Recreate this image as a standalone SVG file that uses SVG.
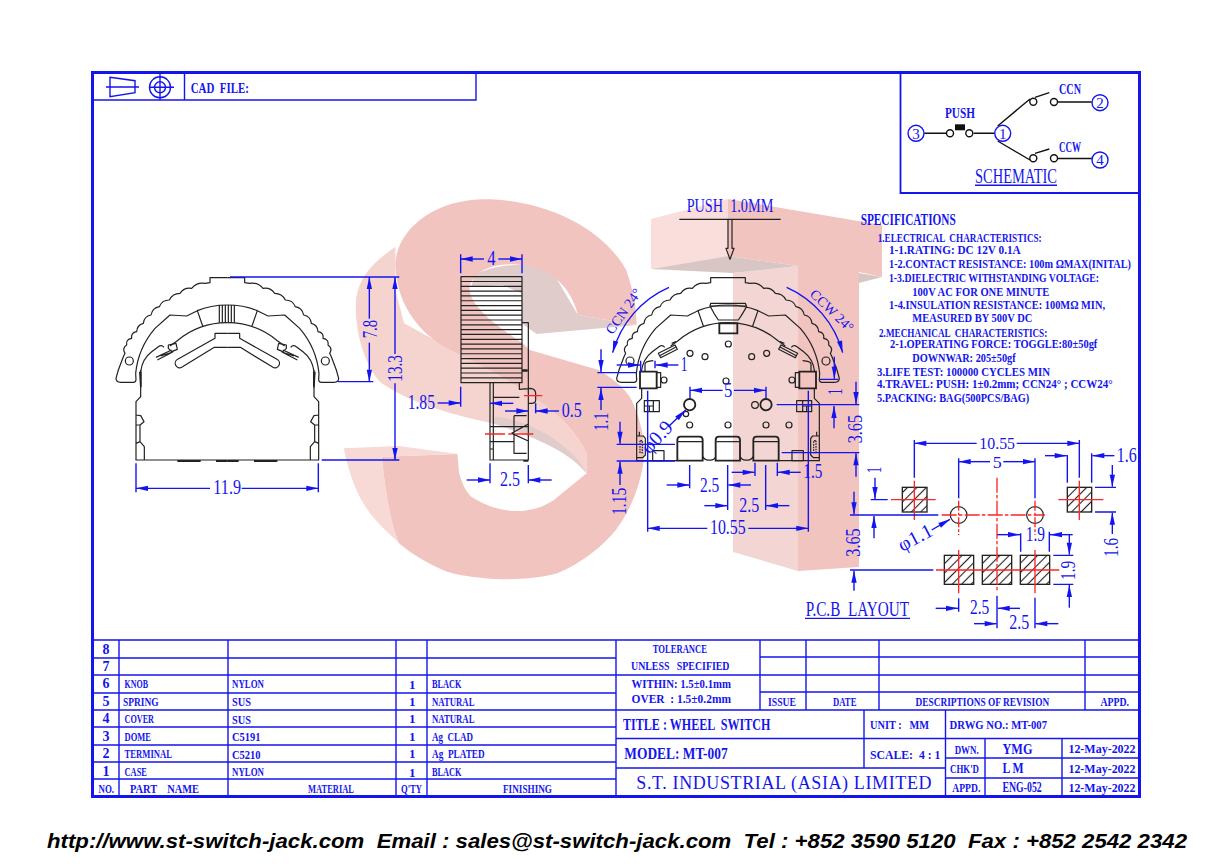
<svg xmlns="http://www.w3.org/2000/svg" width="1232" height="868" viewBox="0 0 1232 868">
<style>
text{font-family:"Liberation Serif","Times New Roman",serif;fill:#1414f0;white-space:pre}
.t{font-weight:bold;font-size:13px}
.h{font-weight:bold;font-size:17px}
.s{font-weight:bold;font-size:12.5px}
.n{font-size:60px}
.n2{font-size:42px}
.l{fill:none;stroke:#1414f0;stroke-width:1.4}
.f{fill:none;stroke:#1414f0;stroke-width:3}
.d{fill:none;stroke:#1414f0;stroke-width:4.2}
.a{marker-end:url(#ar)}
.k{fill:none;stroke:#222;stroke-width:3.6;stroke-linejoin:round}
.kt{fill:none;stroke:#222;stroke-width:5.5}
.b{fill:#222}
.r{fill:none;stroke:#ff2525;stroke-width:4}
.bl{fill:none;stroke:#111;stroke-width:1.4}
</style>
<defs>
<marker id="ar" markerUnits="userSpaceOnUse" markerWidth="36" markerHeight="16" refX="36" refY="8" orient="auto" overflow="visible"><path d="M0 0L36 8L0 16Z" fill="#1414f0"/></marker>
<pattern id="hatch" patternUnits="userSpaceOnUse" width="20" height="20" patternTransform="rotate(-45)"><path d="M0 10H20" stroke="#222" stroke-width="3.4"/></pattern>
<g id="knobhalf">
<path class="k" d="M412,83H360V98L345,100Q321,96 305,115Q283,111 270,130Q248,130 238,150Q216,150 208,170Q187,174 183,195Q162,199 160,220Q141,225 140,245Q122,248 125,265Q107,268 110,285Q95,295 105,310L100,320L85,360L78,385Q78,397 92,397H130Q137,397 138,390L137,370C142,320 165,270 195,235L240,195L290,198L322,182C350,170 380,165 412,165"/>
<path class="k" d="M322,182L338,228M412,218A235,235 0 0 0 262,272L240,288M152,365C155,340 165,320 185,305L205,290Q215,283 222,292"/>
<circle class="k" cx="118" cy="333" r="12"/>
</g>
<g id="fronthalf">
<use href="#knobhalf"/>
<path class="k" d="M152,360V440L138,455V630H412M138,495L152,497L162,515L150,525H138M150,525V575M138,580L150,575L163,590V630"/>
<path class="k" d="M412,250H375V265L263,328A12,12 0 0 0 275,352L373,292H412"/>
<path class="b" d="M147,365H155V412H150ZM262,630H332V636H262ZM378,630H412V636H378Z"/>
<path class="k" d="M235,285L258,280L262,298L245,305L235,295ZM198,322L245,300M202,330L248,306L212,318"/>
</g>
<g id="rearhalf">
<use href="#knobhalf" transform="translate(2,180)"/>
<path class="k" d="M205,490L255,465L262,478L212,503ZM209,497L258,471M245,460L258,455"/>
<path class="kt" d="M150,545H200V595H150Z"/>
<path class="k" d="M200,548H212V592H200M165,545V522Q165,514 190,512"/>
<circle class="k" cx="222" cy="570" r="9"/>
<path class="k" d="M155,595V625L140,640V812H262"/>
<path class="k" d="M163,632H208V665H163ZM163,648H190M178,648V665M190,632V665"/>
<path class="k" d="M140,738H160L166,745V795L158,803H140M148,738V725"/>
<path class="k" d="M150,752V788H157V752Z" stroke-dasharray="5 3"/>
<rect class="k" x="188" y="782" width="34" height="30"/>
<path class="kt" d="M262,812V750Q262,740 272,740H328Q338,740 338,750V812Z"/>
<path class="k" d="M264,755H336M338,800Q345,812 358,810Q372,812 377,800"/>
</g>
</defs>
<rect width="1232" height="868" fill="#fff"/>
<g id="watermark">
<g transform="translate(330,190) scale(.3444,.3333)">
<path fill="#f5d4d0" d="M190,170C120,220 75,270 75,350C75,450 110,540 150,580C220,630 330,670 470,700C600,740 700,790 745,850V790C700,680 560,600 480,550L215,400L190,300Z"/>
<path fill="#e0cdcb" d="M420,255C470,225 560,215 640,235L720,375L890,405L600,432L556,400V310L500,285L410,290Z"/>
<path fill="#f2c4c0" d="M190,220C195,120 300,28 450,28C620,28 790,110 860,240C880,300 890,350 890,405L720,375C700,290 640,235 560,225C480,215 420,240 405,290C400,340 470,400 560,460L580,480L780,540C830,570 870,610 880,640C905,700 915,760 912,800C905,870 880,950 830,1020C790,1070 730,1120 660,1150C610,1165 550,1168 500,1168C440,1165 390,1160 340,1145C290,1125 240,1095 200,1060C175,1000 160,900 150,800L370,792L375,850C385,885 395,905 410,920C480,965 570,985 650,930L745,850V790C700,680 560,600 480,550L350,480C250,430 190,330 190,220Z"/>
<path fill="#f7d9d6" d="M40,775L200,768L370,792L150,800C160,900 175,1000 200,1060C240,1095 290,1125 340,1145C260,1110 210,1070 160,1020C100,960 65,900 40,775Z"/>
<path fill="#e0cdcb" d="M480,680C580,690 700,760 745,850C700,790 600,740 470,700Z"/>
</g>
<path fill="#f2c4c0" d="M728,199L882,225V277L859,272V567L798,571V266L728,256Z"/>
<path fill="#f9dedb" d="M651,219L728,199V256L651,269Z"/>
<path fill="#f3d6d3" d="M733,273L798,266V571L733,552Z"/>
<path fill="#d8c6c5" d="M651,269L728,256L798,266L733,273ZM859,273L882,277L859,283Z"/>
</g>
<g id="frame">
<rect class="f" x="92.500" y="72.500" width="1047" height="724"/>
<path class="l" d="M92,100H476V72M184.500,72V100"/>
<path class="f" style="stroke-width:1.8" d="M900.500,72V193H1140"/>
<path class="l" d="M92,640H1140M92,658H616M92,675H616M92,693H616M92,710H616M92,727H616M92,745H616M92,762H616M92,779H616M119,640V797M228,640V797M396,640V797M427,640V797M616,640V797M760,640V710M806,640V710M879,640V710M1085,640V710M760,657H1140M616,675H1140M760,692H1140M616,710H1140M864,710V768M945.500,710V797M616,738.500H1140M616,768H945M945,758H1140M945,778H1140M985,738.500V797M1062,738.500V797"/>
<path class="l" d="M106,87H139M110,77.300L135,80.700V92.700L110,96.700ZM149,87.300H174M160,74V100"/>
<circle class="l" cx="160" cy="87.300" r="10.500"/><circle class="l" cx="160" cy="87.300" r="5.500"/>
</g>
<g id="schematic">
<path class="bl" d="M924.300,133.300H946.500M973.700,133.300H995M997.700,126L1030,99M1035,97.300L1049.300,92.700M1057.700,102H1091.700M997.700,141L1030,160M1035,153.300L1049.300,149M1057.700,158.500H1091.700"/>
<rect x="955" y="124.300" width="10" height="6" fill="#111"/>
<circle class="bl" cx="950" cy="133.300" r="3.500"/><circle class="bl" cx="969.300" cy="133.300" r="3.500"/>
<circle class="bl" cx="1033.300" cy="101.700" r="3.500"/><circle class="bl" cx="1054" cy="102" r="3.500"/>
<circle class="bl" cx="1033.300" cy="158.300" r="3.500"/><circle class="bl" cx="1054" cy="158.300" r="3.500"/>
<g class="l"><circle class="l" cx="916" cy="133.300" r="8"/><circle class="l" cx="1002.700" cy="133.300" r="8"/><circle class="l" cx="1100" cy="102.700" r="8"/><circle class="l" cx="1100" cy="160" r="8"/></g>
<g text-anchor="middle" font-size="15"><text x="916" y="138.500">3</text><text x="1002.700" y="138.500">1</text><text x="1100" y="108">2</text><text x="1100" y="165">4</text></g>
<text class="t" style="font-size:14px" x="945" y="117.700" textLength="30" lengthAdjust="spacingAndGlyphs">PUSH</text>
<text class="t" style="font-size:14px" x="1059" y="94" textLength="22" lengthAdjust="spacingAndGlyphs">CCN</text>
<text class="t" style="font-size:14px" x="1059" y="152.300" textLength="22" lengthAdjust="spacingAndGlyphs">CCW</text>
<text x="975" y="183.300" font-size="20" textLength="82" lengthAdjust="spacingAndGlyphs">SCHEMATIC</text>
<path class="l" d="M975,185.300H1057"/>
</g>
<g id="front-view" transform="translate(90,250) scale(.33333)">
<use href="#fronthalf"/><use href="#fronthalf" transform="translate(824,0) scale(-1,1)"/>
<path class="k" d="M388,165V218M397,165V218M406,165V218M415,165V218M424,165V218M433,165V218"/>
<path class="d" d="M138,640V727M685,640V727"/>
<path class="d a" d="M360,715H138"/><path class="d a" d="M455,715H685"/>
<text class="n" x="370" y="733" textLength="83" lengthAdjust="spacingAndGlyphs">11.9</text>
</g>
<g id="side-view" transform="translate(360,240) scale(.33333)">
<path class="k" d="M303,110H486V428H303ZM303,124.500H486M303,139H486M303,153.400H486M303,167.800H486M303,182.300H486M303,196.700H486M303,211.200H486M303,225.600H486M303,240H486M303,254.500H486M303,269H486M303,283.400H486M303,297.900H486M303,312.300H486M303,326.800H486M303,341.200H486M303,355.600H486M303,370H486M303,384.500H486M303,399H486M303,413.500H486"/>
<path class="k" d="M486,248H505V490M505,490V660H390V428M400,428V660M478,428V448L512,445Q527,447 527,460V480Q527,490 515,490H505M400,472H478M390,560H505M390,605H462M462,527H500M462,527V640H500M505,552L455,580L505,603M390,627H400"/>
<path class="b" d="M486,388H503V395H486ZM490,660H505V665H490Z"/>
<path class="r" d="M492,467H547M375,582H435M445,582H455M465,582H520"/>
<path class="d" d="M302,43V100M486,43V100M-390,111H118M-66,425H40M-115,660H118M302,440V500M527,490V520M390,670V730M505,675V730"/>
<path class="d a" d="M372,57H302"/><path class="d a" d="M415,57H486"/>
<path class="d a" d="M28,236V111"/><path class="d a" d="M28,308V425"/>
<path class="d a" d="M105,342V111"/><path class="d a" d="M105,430V660"/>
<path class="d a" d="M233,489H302"/><path class="d a" d="M460,490H390"/>
<path class="d a" d="M435,513H505"/><path class="d a" d="M597,513H527"/>
<path class="d a" d="M320,720H390"/><path class="d a" d="M575,720H505"/>
<text class="n" x="382" y="75" textLength="25" lengthAdjust="spacingAndGlyphs">4</text>
<text class="n" transform="rotate(-90 50 295)" x="50" y="295" textLength="55" lengthAdjust="spacingAndGlyphs">7.8</text>
<text class="n" transform="rotate(-90 126 425)" x="126" y="425" textLength="80" lengthAdjust="spacingAndGlyphs">13.3</text>
<text class="n" x="143" y="507" textLength="82" lengthAdjust="spacingAndGlyphs">1.85</text>
<text class="n" x="605" y="530" textLength="60" lengthAdjust="spacingAndGlyphs">0.5</text>
<text class="n" x="420" y="738" textLength="60" lengthAdjust="spacingAndGlyphs">2.5</text>
</g>
<g id="rear-view" transform="translate(590,190) scale(.33333)">
<text x="290" y="65" font-size="56" textLength="260" lengthAdjust="spacingAndGlyphs">PUSH  1.0MM</text>
<path d="M268,88H572" stroke="#222" stroke-width="4" fill="none"/>
<path class="k" d="M414,88V175H408L420,208L432,175H426V88"/>
<use href="#rearhalf"/><use href="#rearhalf" transform="translate(828,0) scale(-1,1)"/>
<path class="k" d="M362,340H466L470,350L452,380L445,390H385L372,370L360,348ZM362,340L360,348H470"/>
<path class="kt" d="M388,400H442V430H388Z"/>
<path class="kt" d="M377,812V750Q377,740 387,740H440Q450,740 450,750V812Z"/>
<path class="k" d="M379,755H448"/>
<g class="k"><circle class="k" cx="415" cy="462" r="9"/><circle class="k" cx="300" cy="490" r="9"/><circle class="k" cx="345" cy="500" r="9"/><circle class="k" cx="485" cy="500" r="9"/><circle class="k" cx="530" cy="490" r="9"/><circle class="k" cx="408" cy="573" r="9"/><circle class="k" cx="299" cy="705" r="9"/><circle class="k" cx="414" cy="705" r="9"/><circle class="k" cx="528" cy="705" r="9"/><circle class="k" cx="597" cy="705" r="9"/><circle class="k" cx="495" cy="645" r="10"/><circle class="k" cx="288" cy="672" r="8"/><circle class="kt" cx="299" cy="644" r="17"/><circle class="kt" cx="528" cy="644" r="17"/></g>
<path class="d a" d="M237,292A300,300 0 0 0 68,488"/><path class="d a" d="M590,292A300,300 0 0 1 758,488"/>
<text class="n2" text-anchor="middle" x="112" y="372" transform="rotate(-55 112 372)">CCN 24°</text>
<text class="n2" text-anchor="middle" x="716" y="372" transform="rotate(44 716 372)">CCW 24°</text>
<path class="d" d="M22,548H140M22,592H140M80,763H255M80,813H255M152,512V545M195,512V535M300,590V625M528,590V625M299,825V895M413,825V960M527,825V960M495,818V858M562,818V858M173,602V1025M655,602V1025M690,568H745"/>
<path class="d a" d="M33,478V546"/><path class="d a" d="M33,660V594"/><path class="d a" d="M90,695V761"/><path class="d a" d="M90,885V815"/>
<path class="d a" d="M80,525H150"/><path class="d a" d="M265,525H197"/>
<path class="d a" d="M235,710L287,660"/>
<path class="d a" d="M398,601H300"/><path class="d a" d="M432,601H528"/>
<path class="d a" d="M230,885H298"/><path class="d a" d="M483,885H415"/>
<path class="d a" d="M343,947H412"/><path class="d a" d="M598,947H528"/>
<path class="d a" d="M425,847H494"/><path class="d a" d="M632,847H563"/>
<path class="d a" d="M352,1015H173"/><path class="d a" d="M475,1015H655"/>
<path class="d a" d="M733,500V566"/>
<text class="n" x="272" y="543" textLength="20" lengthAdjust="spacingAndGlyphs">1</text>
<text class="n" x="402" y="622" textLength="25" lengthAdjust="spacingAndGlyphs">5</text>
<text class="n" x="330" y="905" textLength="58" lengthAdjust="spacingAndGlyphs">2.5</text>
<text class="n" x="448" y="965" textLength="60" lengthAdjust="spacingAndGlyphs">2.5</text>
<text class="n" x="640" y="865" textLength="57" lengthAdjust="spacingAndGlyphs">1.5</text>
<text class="n" x="360" y="1032" textLength="107" lengthAdjust="spacingAndGlyphs">10.55</text>
<text class="n" transform="rotate(-90 55 722)" x="55" y="722" textLength="54" lengthAdjust="spacingAndGlyphs">1.1</text>
<text class="n" transform="rotate(-90 108 975)" x="108" y="975" textLength="82" lengthAdjust="spacingAndGlyphs">1.15</text>
<text class="n" transform="rotate(-90 755 615)" x="755" y="615" textLength="20" lengthAdjust="spacingAndGlyphs">1</text>
<text class="n" text-anchor="middle" x="215" y="755" transform="rotate(-47 215 755)" font-size="52">φ0.9</text>
</g>
<g id="dims-right" transform="translate(770,200) scale(.33333)">
<path class="d" d="M20,614H268M35,758H268"/>
<path class="d a" d="M258,545V612"/><path class="d a" d="M192,685V618"/><path class="d a" d="M258,830V760"/><path class="d a" d="M252,875V943"/><path class="d a" d="M252,1172V1112"/>
<text class="n" transform="rotate(-90 276 730)" x="276" y="730" textLength="85" lengthAdjust="spacingAndGlyphs">3.65</text>
<text class="n" transform="rotate(-90 270 1070)" x="270" y="1070" textLength="85" lengthAdjust="spacingAndGlyphs">3.65</text>
</g>
<g id="pcb-layout" transform="translate(800,430) scale(.33333)">
<g fill="url(#hatch)" stroke="#222" stroke-width="4"><rect x="307" y="172" width="74" height="74"/><rect x="802" y="172" width="73" height="74"/><rect x="433" y="376" width="88" height="87"/><rect x="547" y="376" width="88" height="87"/><rect x="661" y="376" width="88" height="87"/></g>
<circle class="k" cx="476" cy="255" r="25"/><circle class="k" cx="705" cy="255" r="25"/>
<path class="r" d="M273,209H407M343,152V270M775,209H910M838,152V270M408,420H778M476,360V490M705,360V490"/>
<path class="r" d="M476,212V315M705,212V315" stroke-dasharray="30 6 8 6"/>
<path class="r" d="M425,255H735M591,143V485" stroke-dasharray="45 7 10 7"/>
<path class="d" d="M343,30V143M838,30V143M476,85V205M705,85V205M150,255H415M150,420H400M212,209H263M802,75V158M875,70V158M885,172H948M885,246H948M662,310V365M748,305V365M760,376H820M760,463H820M476,505V545M591,497V595M705,503V595"/>
<path class="d a" d="M530,40H343"/><path class="d a" d="M650,40H838"/>
<path class="d a" d="M570,95H476"/><path class="d a" d="M610,95H705"/>
<path class="d a" d="M225,143V207"/>
<path class="d a" d="M395,300L450,268"/>
<path class="d a" d="M735,77H800"/><path class="d a" d="M943,77H877"/>
<path class="d a" d="M937,105V170"/><path class="d a" d="M937,312V248"/>
<path class="d a" d="M592,314H660"/><path class="d a" d="M818,314H750"/>
<path class="d a" d="M808,315V374"/><path class="d a" d="M808,533V465"/>
<path class="d a" d="M407,535H474"/><path class="d a" d="M660,535H593"/>
<path class="d a" d="M522,581H590"/><path class="d a" d="M775,581H706"/>
<path class="d a" d="M222,325V258"/>
<text font-size="52" x="538" y="56" textLength="107" lengthAdjust="spacingAndGlyphs">10.55</text>
<text font-size="52" x="578" y="114" textLength="27" lengthAdjust="spacingAndGlyphs">5</text>
<text class="n" x="950" y="97" textLength="60" lengthAdjust="spacingAndGlyphs">1.6</text>
<text class="n" x="677" y="333" textLength="58" lengthAdjust="spacingAndGlyphs">1.9</text>
<text class="n" x="510" y="553" textLength="58" lengthAdjust="spacingAndGlyphs">2.5</text>
<text class="n" x="628" y="598" textLength="60" lengthAdjust="spacingAndGlyphs">2.5</text>
<text class="n" transform="rotate(-90 242 130)" x="242" y="130" textLength="20" lengthAdjust="spacingAndGlyphs">1</text>
<text class="n" transform="rotate(-90 955 380)" x="955" y="380" textLength="56" lengthAdjust="spacingAndGlyphs">1.6</text>
<text class="n" transform="rotate(-90 825 450)" x="825" y="450" textLength="58" lengthAdjust="spacingAndGlyphs">1.9</text>
<text class="n" text-anchor="middle" x="355" y="340" font-size="54" transform="rotate(-28 355 340)">φ1.1</text>
<text x="17" y="558" font-size="60" textLength="310" lengthAdjust="spacingAndGlyphs">P.C.B  LAYOUT</text>
<path class="d" d="M15,565H330"/>
</g>
<g id="specifications">
<text class="h" style="font-size:16px" x="860.700" y="225" textLength="95" lengthAdjust="spacingAndGlyphs">SPECIFICATIONS</text>
<text class="s" x="877.700" y="241.700" textLength="164" lengthAdjust="spacingAndGlyphs">1.ELECTRICAL  CHARACTERISTICS:</text>
<text class="s" x="889" y="254.300" textLength="131.700" lengthAdjust="spacingAndGlyphs">1-1.RATING: DC 12V 0.1A</text>
<text class="s" x="889" y="267.700" textLength="242" lengthAdjust="spacingAndGlyphs">1-2.CONTACT RESISTANCE: 100m ΩMAX(INITAL)</text>
<text class="s" x="889" y="282.300" textLength="210" lengthAdjust="spacingAndGlyphs">1-3.DIELECTRIC WITHSTANDING VOLTAGE:</text>
<text class="s" x="912.300" y="295.700" textLength="137" lengthAdjust="spacingAndGlyphs">100V AC FOR ONE MINUTE</text>
<text class="s" x="889" y="309" textLength="216" lengthAdjust="spacingAndGlyphs">1-4.INSULATION RESISTANCE: 100MΩ MIN,</text>
<text class="s" x="912.300" y="322.300" textLength="120" lengthAdjust="spacingAndGlyphs">MEASURED BY 500V DC</text>
<text class="s" x="879" y="336.700" textLength="168.300" lengthAdjust="spacingAndGlyphs">2.MECHANICAL  CHARACTERISTICS:</text>
<text class="s" x="890" y="348.300" textLength="207.300" lengthAdjust="spacingAndGlyphs">2-1.OPERATING FORCE: TOGGLE:80±50gf</text>
<text class="s" x="912.300" y="362.300" textLength="103.400" lengthAdjust="spacingAndGlyphs">DOWNWAR: 205±50gf</text>
<text class="s" x="877" y="375.700" textLength="173" lengthAdjust="spacingAndGlyphs">3.LIFE TEST: 100000 CYCLES MIN</text>
<text class="s" x="877" y="388.300" textLength="235.700" lengthAdjust="spacingAndGlyphs">4.TRAVEL: PUSH: 1±0.2mm; CCN24° ; CCW24°</text>
<text class="s" x="877" y="401.700" textLength="152.300" lengthAdjust="spacingAndGlyphs">5.PACKING: BAG(500PCS/BAG)</text>
</g>
<g id="cad-file"><text class="t" style="font-size:14px" x="190.700" y="93" textLength="58.300" lengthAdjust="spacingAndGlyphs">CAD  FILE:</text></g>
<g id="bom-table">
<g class="t" style="font-size:14px" text-anchor="middle"><text x="106" y="654">8</text><text x="106" y="671">7</text><text x="106" y="688">6</text><text x="106" y="706">5</text><text x="106" y="723">4</text><text x="106" y="741">3</text><text x="106" y="758">2</text><text x="106" y="776">1</text></g>
<text class="t" x="98.500" y="792.700" textLength="15.500" lengthAdjust="spacingAndGlyphs">NO.</text>
<text class="t" x="130" y="792.700" textLength="69" lengthAdjust="spacingAndGlyphs">PART    NAME</text>
<text class="t" x="308" y="792.700" textLength="46" lengthAdjust="spacingAndGlyphs">MATERIAL</text>
<text class="t" x="401" y="792.700" textLength="21" lengthAdjust="spacingAndGlyphs">Q'TY</text>
<text class="t" x="503" y="792.700" textLength="49" lengthAdjust="spacingAndGlyphs">FINISHING</text>
<text class="t" x="124.500" y="688" textLength="23.500" lengthAdjust="spacingAndGlyphs">KNOB</text><text class="t" x="232" y="688" textLength="32" lengthAdjust="spacingAndGlyphs">NYLON</text><text class="t" x="409" y="689">1</text><text class="t" x="432" y="688" textLength="29.600" lengthAdjust="spacingAndGlyphs">BLACK</text>
<text class="t" x="123" y="705.500" textLength="35.600" lengthAdjust="spacingAndGlyphs">SPRING</text><text class="t" x="232" y="706" textLength="19" lengthAdjust="spacingAndGlyphs">SUS</text><text class="t" x="409" y="706">1</text><text class="t" x="432" y="705.500" textLength="42.500" lengthAdjust="spacingAndGlyphs">NATURAL</text>
<text class="t" x="124.500" y="723" textLength="29.500" lengthAdjust="spacingAndGlyphs">COVER</text><text class="t" x="232" y="723.500" textLength="19" lengthAdjust="spacingAndGlyphs">SUS</text><text class="t" x="409" y="723">1</text><text class="t" x="432" y="723" textLength="42.500" lengthAdjust="spacingAndGlyphs">NATURAL</text>
<text class="t" x="124.500" y="740.500" textLength="26.500" lengthAdjust="spacingAndGlyphs">DOME</text><text class="t" x="232" y="741" textLength="28.600" lengthAdjust="spacingAndGlyphs">C5191</text><text class="t" x="409" y="741">1</text><text class="t" x="432" y="740.500" textLength="41" lengthAdjust="spacingAndGlyphs">Ag  CLAD</text>
<text class="t" x="124.500" y="758" textLength="47.500" lengthAdjust="spacingAndGlyphs">TERMINAL</text><text class="t" x="232" y="758.500" textLength="28.600" lengthAdjust="spacingAndGlyphs">C5210</text><text class="t" x="409" y="758">1</text><text class="t" x="432" y="758" textLength="52.600" lengthAdjust="spacingAndGlyphs">Ag  PLATED</text>
<text class="t" x="124.500" y="776" textLength="22.500" lengthAdjust="spacingAndGlyphs">CASE</text><text class="t" x="232" y="776" textLength="32" lengthAdjust="spacingAndGlyphs">NYLON</text><text class="t" x="409" y="776.500">1</text><text class="t" x="432" y="776" textLength="29.600" lengthAdjust="spacingAndGlyphs">BLACK</text>
</g>
<g id="title-block">
<text class="t" x="652.700" y="653.300" textLength="54.300" lengthAdjust="spacingAndGlyphs">TOLERANCE</text>
<text class="t" x="631" y="670" textLength="98.500" lengthAdjust="spacingAndGlyphs">UNLESS   SPECIFIED</text>
<text class="t" x="631.500" y="688" textLength="99.500" lengthAdjust="spacingAndGlyphs">WITHIN: 1.5±0.1mm</text>
<text class="t" x="631.500" y="703" textLength="99.500" lengthAdjust="spacingAndGlyphs">OVER  : 1.5±0.2mm</text>
<text class="t" x="768" y="705.700" textLength="28" lengthAdjust="spacingAndGlyphs">ISSUE</text>
<text class="t" x="833" y="705.700" textLength="23.400" lengthAdjust="spacingAndGlyphs">DATE</text>
<text class="t" transform="translate(915.500,705.700) scale(.72,1)" x="0" y="0">DESCRIPTIONS OF REVISION</text>
<text class="t" x="1100.500" y="705.700" textLength="28.500" lengthAdjust="spacingAndGlyphs">APPD.</text>
<text class="h" x="623" y="730" textLength="147.400" lengthAdjust="spacingAndGlyphs">TITLE : WHEEL  SWITCH</text>
<text class="t" x="870" y="729" textLength="59" lengthAdjust="spacingAndGlyphs">UNIT :   MM</text>
<text class="t" x="949.600" y="729" textLength="97.400" lengthAdjust="spacingAndGlyphs">DRWG NO.: MT-007</text>
<text class="h" x="624.300" y="759" textLength="103.400" lengthAdjust="spacingAndGlyphs">MODEL: MT-007</text>
<text class="t" x="870" y="759" textLength="70.400" lengthAdjust="spacingAndGlyphs">SCALE:  4 : 1</text>
<text class="t" x="954.700" y="754.300" textLength="24" lengthAdjust="spacingAndGlyphs">DWN.</text>
<text class="t" style="font-size:15px" x="1002.500" y="753.700" textLength="30" lengthAdjust="spacingAndGlyphs">YMG</text>
<text class="t" x="1068.400" y="753.300" textLength="67.200" lengthAdjust="spacingAndGlyphs">12-May-2022</text>
<text class="t" x="950" y="772.700" textLength="29" lengthAdjust="spacingAndGlyphs">CHK'D</text>
<text class="t" style="font-size:15px" x="1002.500" y="772.700" textLength="21.200" lengthAdjust="spacingAndGlyphs">L M</text>
<text class="t" x="1068.400" y="772.700" textLength="67.200" lengthAdjust="spacingAndGlyphs">12-May-2022</text>
<text class="t" x="952.300" y="791.700" textLength="28" lengthAdjust="spacingAndGlyphs">APPD.</text>
<text class="t" style="font-size:15px" x="1002.500" y="791.700" textLength="39.200" lengthAdjust="spacingAndGlyphs">ENG-052</text>
<text class="t" x="1068.400" y="791.700" textLength="67.200" lengthAdjust="spacingAndGlyphs">12-May-2022</text>
<text x="636.300" y="789" font-size="18" textLength="295.200" lengthAdjust="spacing">S.T. INDUSTRIAL (ASIA) LIMITED</text>
</g>
<text id="footer" x="47" y="848" style="font-family:'Liberation Sans',Arial,sans-serif;font-weight:bold;font-style:italic;font-size:21px;fill:#000" textLength="1140" lengthAdjust="spacingAndGlyphs">http://www.st-switch-jack.com  Email : sales@st-switch-jack.com  Tel : +852 3590 5120  Fax : +852 2542 2342</text>
</svg>
